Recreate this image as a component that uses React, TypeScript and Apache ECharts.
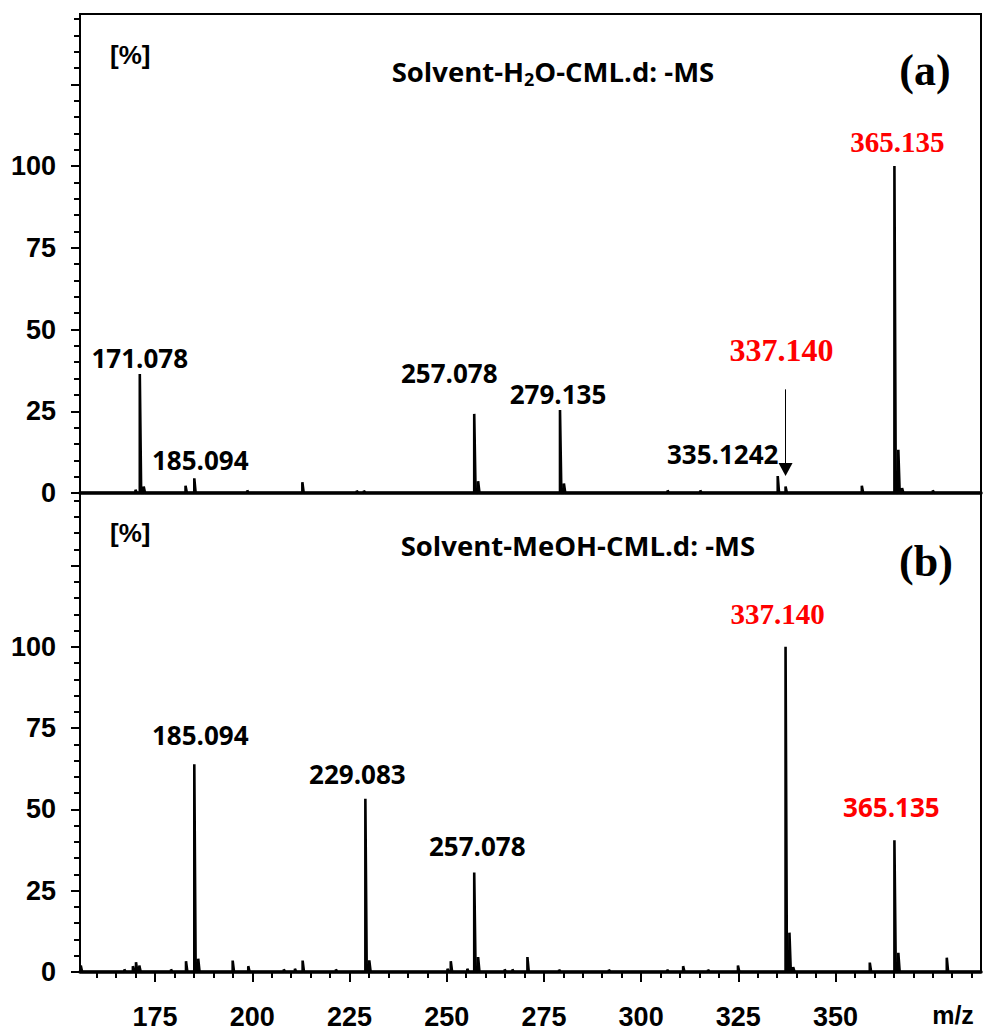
import React, { useEffect, useRef } from 'react';
import * as echarts from 'echarts';

// ---------- data ----------
const X_MIN = 155.7;
const X_MAX = 387.4;
const TOP_Y_MAX = 146.5;
const BOTTOM_Y_MAX = 147.3;

const xLabelValues = [175, 200, 225, 250, 275, 300, 325, 350];
const xMinorTicks = [160, 165, 170, 180, 185, 190, 195, 205, 210, 215, 220, 230, 235, 240, 245, 255, 260, 265, 270, 280, 285, 290, 295, 305, 310, 315, 320, 330, 335, 340, 345, 355, 360, 365, 370, 375, 380, 385];
const yLabelValues = [0, 25, 50, 75, 100];
const yMajorTicks = [0, 25, 50, 75, 100, 125];
const yMinorTicks = [5, 10, 15, 20, 30, 35, 40, 45, 55, 60, 65, 70, 80, 85, 90, 95, 105, 110, 115, 120, 130, 135, 140, 145];

// (a) Solvent-H2O-CML.d: -MS
const topMz = [169.97, 171.078, 172.08, 182.84, 185.094, 198.7, 212.88, 226.86, 228.7, 257.078, 258.08, 279.135, 280.14, 306.8, 315.2, 335.124, 337.14, 356.75, 365.135, 366.14, 367.1, 375.0];
const topInt = [1, 36.4, 2, 2.2, 4.5, 0.8, 3.3, 0.7, 0.7, 24.2, 3.6, 25.4, 2.9, 0.8, 0.8, 5.2, 2, 2.2, 100, 13.2, 1.5, 0.8];

// (b) Solvent-MeOH-CML.d: -MS
const bottomMz = [155.9, 167.1, 169.3, 170.1, 170.96, 179.1, 182.96, 185.094, 186.1, 194.96, 198.97, 208.1, 210.97, 212.95, 221.5, 229.083, 230.09, 250.2, 251.05, 255.3, 257.078, 258.08, 264.9, 266.9, 270.76, 278.9, 291.7, 306.7, 310.8, 317.2, 324.9, 337.14, 338.14, 339.1, 358.8, 365.135, 366.14, 378.6];
const bottomInt = [2, 0.8, 1.8, 3, 2, 0.8, 3.3, 63.9, 4.1, 3.5, 1.8, 0.8, 1, 3.5, 0.8, 53.3, 3.6, 1, 3.3, 1, 30.6, 4.6, 0.8, 0.8, 4.6, 0.7, 0.7, 0.7, 1.8, 0.7, 2, 100, 12.1, 1.5, 2.9, 40.5, 5.9, 4.4];

// peak annotations
const topLabelText = ['171.078', '185.094', '257.078', '279.135', '335.1242', '337.140', '365.135'];
const topLabelMz = [171.078, 185.094, 257.078, 279.135, 335.124, 337.14, 365.135];
const topLabelInt = [36.4, 4.5, 24.2, 25.4, 5.2, 31.7, 100];
const topLabelRed = [false, false, false, false, false, true, true];

const bottomLabelText = ['185.094', '229.083', '257.078', '337.140', '365.135'];
const bottomLabelMz = [185.094, 229.083, 257.078, 337.14, 365.135];
const bottomLabelInt = [63.9, 53.3, 30.6, 100, 40.5];
const bottomLabelRed = [false, false, false, true, true];

// arrow pointing at 337.140 in (a)
const arrowMz = 337.14;
const arrowFrom = 31.7;
const arrowTo = 7.2;

// ---------- layout / style ----------
const topLabelOffsets = [[0, -16], [6, -18], [-25, -41], [-2, -16], [-55, -22], [-4, -39], [3, -24]];
const topLabelSerif = [false, false, false, false, false, true, true];
const topLabelSize = [26, 26, 26, 26, 26, 32, 29];
const bottomLabelOffsets = [[6, -29], [-8, -25], [3, -26], [-8, -33], [-3, -33]];
const bottomLabelSerif = [false, false, false, true, false];
const bottomLabelSize = [26, 26, 26, 29, 26];

const SANS = '"Open Sans", "Noto Sans", sans-serif';
const ARIAL = '"Liberation Sans", Arial, sans-serif';
const SERIF = '"Liberation Serif", "Times New Roman", serif';

const GRID_LEFT = 80;
const GRID_WIDTH = 901;
const TOP_GRID = { left: GRID_LEFT, top: 14, width: GRID_WIDTH, height: 479 };
const BOTTOM_GRID = { left: GRID_LEFT, top: 493, width: GRID_WIDTH, height: 479 };

function profile(mz: number[], ints: number[]) {
  const pts: number[][] = [[X_MIN, 0]];
  mz.forEach((m, i) => {
    pts.push([m, 0], [m, ints[i]], [m + 0.35, 0]);
  });
  pts.push([X_MAX, 0]);
  return pts;
}

function labelData(text: string[], mz: number[], ints: number[], red: boolean[], offsets: number[][], serif: boolean[], sizes: number[]) {
  return text.map((t, i) => ({
    value: [mz[i], ints[i]],
    label: {
      show: true,
      position: 'inside',
      formatter: t,
      offset: offsets[i],
      color: red[i] ? '#ff0000' : '#000000',
      opacity: 1,
      textBorderWidth: 0,
      fontFamily: serif[i] ? SERIF : SANS,
      fontWeight: 'bold',
      fontSize: sizes[i],
    },
  }));
}

export default function App() {
  const ref = useRef<HTMLDivElement>(null);

  useEffect(() => {
    if (!ref.current) return;
    const chart = echarts.init(ref.current, undefined, { renderer: 'svg' });

    const mainY = (grid: number, max: number) => ({
      type: 'value',
      gridIndex: grid,
      min: 0,
      max,
      axisLine: { show: true, lineStyle: { color: '#000', width: 2 } },
      axisTick: { show: true, customValues: yMajorTicks, length: 9, lineStyle: { color: '#000', width: 2 } },
      axisLabel: {
        show: true,
        customValues: yLabelValues,
        margin: 24,
        color: '#000',
        fontFamily: ARIAL,
        fontWeight: 'bold',
        fontSize: 27,
      },
      splitLine: { show: false },
    });
    const minorY = (grid: number, max: number) => ({
      type: 'value',
      gridIndex: grid,
      min: 0,
      max,
      axisLine: { show: false },
      axisTick: { show: true, customValues: yMinorTicks, length: 6, lineStyle: { color: '#000', width: 2 } },
      axisLabel: { show: false },
      splitLine: { show: false },
    });

    const option: any = {
      animation: false,
      backgroundColor: '#ffffff',
      grid: [
        { ...TOP_GRID, show: true, borderColor: '#000', borderWidth: 2, containLabel: false },
        { ...BOTTOM_GRID, show: true, borderColor: '#000', borderWidth: 2, containLabel: false },
        { ...TOP_GRID, show: false },
        { ...BOTTOM_GRID, show: false },
      ],
      xAxis: [
        {
          type: 'value', gridIndex: 0, min: X_MIN, max: X_MAX,
          axisLine: { show: true, onZero: false, lineStyle: { color: '#000', width: 3.5 } },
          axisTick: { show: false }, axisLabel: { show: false }, splitLine: { show: false },
        },
        {
          type: 'value', gridIndex: 1, min: X_MIN, max: X_MAX,
          axisLine: { show: true, onZero: false, lineStyle: { color: '#000', width: 3.5 } },
          axisTick: { show: true, customValues: xLabelValues, length: 10, lineStyle: { color: '#000', width: 2 } },
          axisLabel: {
            show: true, customValues: xLabelValues, margin: 31, color: '#000',
            fontFamily: ARIAL, fontWeight: 'bold', fontSize: 27,
          },
          splitLine: { show: false },
        },
        {
          type: 'value', gridIndex: 3, min: X_MIN, max: X_MAX,
          axisLine: { show: false, onZero: false },
          axisTick: { show: true, customValues: xMinorTicks, length: 6, lineStyle: { color: '#000', width: 2 } },
          axisLabel: { show: false }, splitLine: { show: false },
        },
        {
          type: 'value', gridIndex: 2, min: X_MIN, max: X_MAX, show: false,
        },
      ],
      yAxis: [
        mainY(0, TOP_Y_MAX),
        mainY(1, BOTTOM_Y_MAX),
        minorY(2, TOP_Y_MAX),
        minorY(3, BOTTOM_Y_MAX),
      ],
      series: [
        {
          type: 'line', xAxisIndex: 0, yAxisIndex: 0,
          data: profile(topMz, topInt),
          showSymbol: false, symbol: 'none',
          lineStyle: { color: '#000', width: 2.6 },
          areaStyle: { color: '#000', opacity: 1 },
          silent: true, z: 3,
        },
        {
          type: 'line', xAxisIndex: 1, yAxisIndex: 1,
          data: profile(bottomMz, bottomInt),
          showSymbol: false, symbol: 'none',
          lineStyle: { color: '#000', width: 2.6 },
          areaStyle: { color: '#000', opacity: 1 },
          silent: true, z: 3,
        },
        {
          type: 'scatter', xAxisIndex: 0, yAxisIndex: 0,
          symbolSize: 0,
          itemStyle: { opacity: 1, color: '#000' },
          data: labelData(topLabelText, topLabelMz, topLabelInt, topLabelRed, topLabelOffsets, topLabelSerif, topLabelSize),
          silent: true, z: 5,
          markLine: {
            silent: true,
            symbol: ['none', 'triangle'],
            symbolSize: [14, 13],
            label: { show: false },
            lineStyle: { color: '#000', width: 1, type: 'solid', opacity: 1 },
            itemStyle: { color: '#000' },
            data: [[{ coord: [arrowMz, arrowFrom] }, { coord: [arrowMz, arrowTo] }]],
          },
        },
        {
          type: 'scatter', xAxisIndex: 1, yAxisIndex: 1,
          symbolSize: 0,
          itemStyle: { opacity: 1, color: '#000' },
          data: labelData(bottomLabelText, bottomLabelMz, bottomLabelInt, bottomLabelRed, bottomLabelOffsets, bottomLabelSerif, bottomLabelSize),
          silent: true, z: 5,
        },
      ],
      graphic: [
        {
          type: 'text', x: 391.7, y: 71.7,
          style: {
            text: '{n|Solvent-H}{s|2}{n|O-CML.d: -MS}',
            align: 'left', verticalAlign: 'middle',
            rich: {
              n: { fontFamily: SANS, fontWeight: 'bold', fontSize: 27.5, fill: '#000', lineHeight: 32 },
              s: { fontFamily: SANS, fontWeight: 'bold', fontSize: 18, fill: '#000', lineHeight: 14, verticalAlign: 'bottom' },
            },
          },
        },
        {
          type: 'text', x: 400.7, y: 545,
          style: {
            text: 'Solvent-MeOH-CML.d: -MS', align: 'left', verticalAlign: 'middle',
            fontFamily: SANS, fontWeight: 'bold', fontSize: 27.5, fill: '#000',
          },
        },
        {
          type: 'text', x: 925, y: 70,
          style: { text: '(a)', align: 'center', verticalAlign: 'middle', fontFamily: SERIF, fontWeight: 'bold', fontSize: 44, fill: '#000' },
        },
        {
          type: 'text', x: 926, y: 561,
          style: { text: '(b)', align: 'center', verticalAlign: 'middle', fontFamily: SERIF, fontWeight: 'bold', fontSize: 44, fill: '#000' },
        },
        {
          type: 'text', x: 110, y: 55,
          style: { text: '[%]', align: 'left', verticalAlign: 'middle', fontFamily: ARIAL, fontWeight: 'bold', fontSize: 26, fill: '#000' },
        },
        {
          type: 'text', x: 110, y: 533,
          style: { text: '[%]', align: 'left', verticalAlign: 'middle', fontFamily: ARIAL, fontWeight: 'bold', fontSize: 26, fill: '#000' },
        },
        {
          type: 'text', x: 953, y: 1015,
          style: { text: 'm/z', align: 'center', verticalAlign: 'middle', fontFamily: ARIAL, fontWeight: 'bold', fontSize: 25, fill: '#000' },
        },
      ],
    };

    chart.setOption(option);
    return () => chart.dispose();
  }, []);

  return (
    <div
      ref={ref}
      style={{ position: 'fixed', left: 0, top: 0, width: 983, height: 1031, background: '#fff' }}
    />
  );
}
